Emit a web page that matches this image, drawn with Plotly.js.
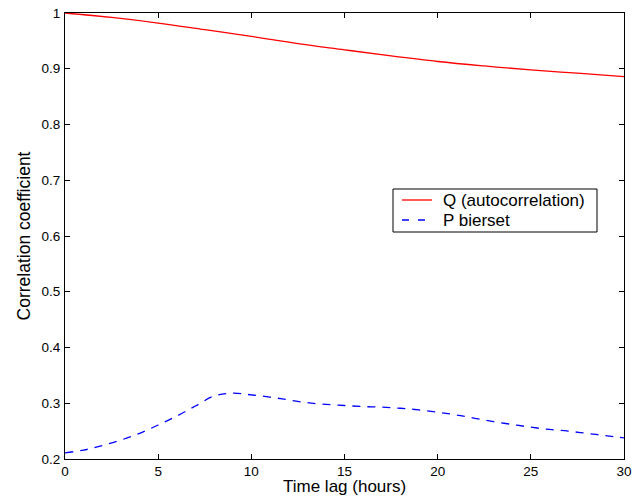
<!DOCTYPE html>
<html><head><meta charset="utf-8">
<script src="https://cdn.plot.ly/plotly-3.0.1.min.js"></script>
<style>html,body{margin:0;padding:0;background:#fff}#c{width:643px;height:498px}</style>
</head><body><div id="c"></div>
<script>
const lagQ = [0, 2.5, 5, 7.5, 10, 12.5, 15, 17.5, 20, 22.5, 25, 27.5, 30];
const qAuto = [1.0, 0.992, 0.982, 0.970, 0.958, 0.945, 0.934, 0.923, 0.913, 0.905, 0.898, 0.892, 0.886];
const lagP = [0, 1, 2, 3, 4, 5, 6, 7, 8, 9, 10, 11, 12, 13, 14, 15, 16, 17, 18, 19, 20, 21, 22, 23, 24, 25, 26, 27, 28, 29, 30];
const pBierset = [0.211, 0.216, 0.224, 0.234, 0.246, 0.261, 0.277, 0.295, 0.313, 0.318, 0.315, 0.311, 0.306, 0.301, 0.298, 0.296, 0.294, 0.293, 0.291, 0.288, 0.284, 0.279, 0.273, 0.267, 0.262, 0.257, 0.253, 0.250, 0.246, 0.242, 0.238];
const seriesNames = ['Q (autocorrelation)', 'P bierset'];
const xTitle = 'Time lag (hours)';
const yTitle = 'Correlation coefficient';
const xTicks = [0, 5, 10, 15, 20, 25, 30];
const yTicks = [0.2, 0.3, 0.4, 0.5, 0.6, 0.7, 0.8, 0.9, 1];
const yTickText = ['0.2', '0.3', '0.4', '0.5', '0.6', '0.7', '0.8', '0.9', '1'];

const W = 643, H = 498, M = {l: 65, r: 19, t: 13, b: 39};
const pw = W - M.l - M.r, ph = H - M.t - M.b;
const px = x => (x - M.l) / pw;          // pixel -> paper x
const py = y => (H - M.b - y) / ph;      // pixel -> paper y

const fam = 'Liberation Sans, Arial, sans-serif';
const tickFont = {family: fam, size: 13.5, color: '#000'};
const titleFont = {family: fam, size: 17.5, color: '#000'};
const xTitleFont = {family: fam, size: 17, color: '#000'};
const legFont = {family: fam, size: 17, color: '#000'};
const colors = ['#ff0000', '#0000ff'];

const data = [
  {x: lagQ, y: qAuto, type: 'scatter', mode: 'lines', name: seriesNames[0],
   line: {color: colors[0], width: 1.3, shape: 'spline'}},
  {x: lagP, y: pBierset, type: 'scatter', mode: 'lines', name: seriesNames[1],
   line: {color: colors[1], width: 1.3, dash: '8px,7px', shape: 'spline'}}
];

// legend drawn as box + samples + labels
const legBox = {x0: 393, x1: 597, y0: 189, y1: 232};
const rowsY = [200, 220];
const shapes = [
  {type: 'rect', xref: 'paper', yref: 'paper', x0: px(legBox.x0), x1: px(legBox.x1), y0: py(legBox.y1), y1: py(legBox.y0),
   line: {color: '#000', width: 1}, fillcolor: '#fff', layer: 'above'},
  {type: 'line', xref: 'paper', yref: 'paper', x0: px(402), x1: px(432), y0: py(rowsY[0]), y1: py(rowsY[0]),
   line: {color: colors[0], width: 1.3}, layer: 'above'},
  {type: 'line', xref: 'paper', yref: 'paper', x0: px(402), x1: px(432), y0: py(rowsY[1]), y1: py(rowsY[1]),
   line: {color: colors[1], width: 1.3, dash: '7px,9px'}, layer: 'above'}
];
const annotations = seriesNames.map((n, i) => ({
  text: n, xref: 'paper', yref: 'paper', x: px(441), y: py(rowsY[i]), xanchor: 'left', yanchor: 'middle',
  showarrow: false, font: legFont
}));
annotations.push({text: xTitle, xref: 'paper', yref: 'paper', x: 0.5, y: py(486), xanchor: 'center', yanchor: 'middle',
  showarrow: false, font: xTitleFont, borderpad: 0});

const layout = {
  width: W, height: H,
  margin: M,
  paper_bgcolor: '#fff', plot_bgcolor: '#fff',
  font: tickFont,
  showlegend: false,
  shapes: shapes, annotations: annotations,
  xaxis: {range: [0, 30], tickvals: xTicks, ticks: 'inside', ticklen: 5, tickcolor: '#000',
    showline: true, linecolor: '#000', linewidth: 1, mirror: 'ticks', showgrid: false, zeroline: false,
    tickfont: tickFont},
  yaxis: {range: [0.2, 1], tickvals: yTicks, ticktext: yTickText, ticks: 'inside', ticklen: 5, tickcolor: '#000',
    showline: true, linecolor: '#000', linewidth: 1, mirror: 'ticks', showgrid: false, zeroline: false,
    tickfont: tickFont, ticklabelstandoff: 1,
    title: {text: yTitle, font: titleFont, standoff: 6}}
};
Plotly.newPlot('c', data, layout, {displayModeBar: false, staticPlot: true});
</script></body></html>
